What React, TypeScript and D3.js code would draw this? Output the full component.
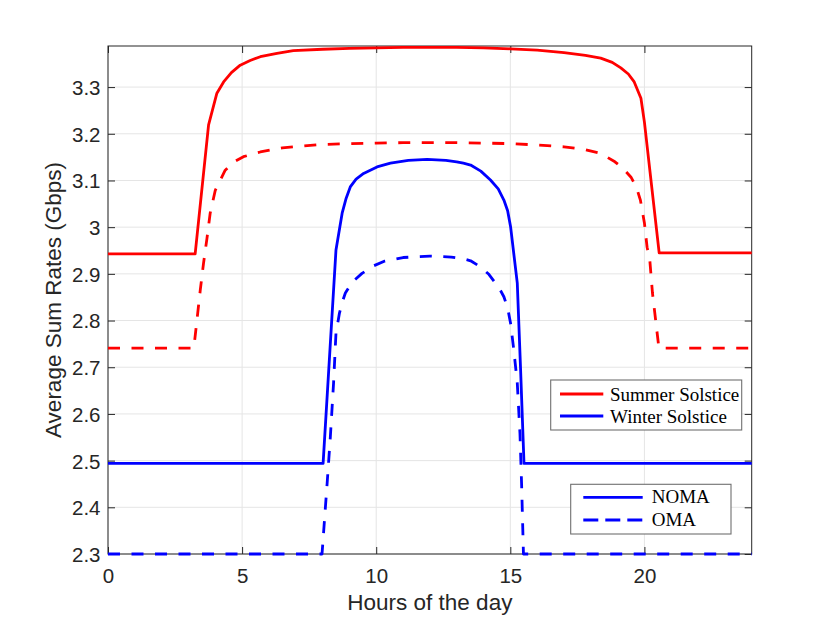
import React, { useEffect, useRef } from 'react';
import * as d3 from 'd3';

// axis ticks
const hourTicks = [0, 5, 10, 15, 20];
const rateTicks = [2.3, 2.4, 2.5, 2.6, 2.7, 2.8, 2.9, 3, 3.1, 3.2, 3.3];

// Summer solstice, NOMA (solid red)
const summerNomaHours = [0, 3.25, 3.75, 4.06, 4.31, 4.6, 4.93, 5.3, 5.68, 6.3, 6.91, 8, 9, 10, 11, 12, 13, 14, 15, 16, 17, 17.8, 18.37, 18.8, 19.12, 19.4, 19.62, 19.87, 20.0, 20.55, 24];
const summerNomaRates = [2.943, 2.943, 3.219, 3.287, 3.311, 3.331, 3.347, 3.357, 3.365, 3.372, 3.378, 3.381, 3.383, 3.384, 3.385, 3.385, 3.385, 3.384, 3.382, 3.379, 3.374, 3.368, 3.362, 3.353, 3.341, 3.328, 3.311, 3.276, 3.225, 2.945, 2.945];

// Summer solstice, OMA (dashed red)
const summerOmaHours = [0, 3.2, 3.44, 3.56, 3.69, 3.81, 4.0, 4.37, 4.7, 5.05, 5.68, 6.5, 7.92, 9, 10, 11, 12, 13, 14, 15, 16, 17, 17.8, 18.37, 18.9, 19.2, 19.5, 19.7, 19.85, 20.0, 20.1, 20.2, 20.3, 20.42, 20.54, 24];
const summerOmaRates = [2.741, 2.741, 2.865, 2.922, 2.976, 3.03, 3.079, 3.122, 3.14, 3.151, 3.161, 3.17, 3.177, 3.179, 3.18, 3.181, 3.181, 3.181, 3.18, 3.179, 3.176, 3.172, 3.166, 3.158, 3.14, 3.126, 3.107, 3.086, 3.058, 3.009, 2.957, 2.93, 2.859, 2.8, 2.741, 2.741];

// Winter solstice, NOMA (solid blue)
const winterNomaHours = [0, 8.02, 8.5, 8.73, 8.88, 9.04, 9.25, 9.53, 10.03, 10.53, 11.2, 11.9, 12.6, 13.0, 13.25, 13.52, 13.9, 14.26, 14.55, 14.76, 14.9, 15.01, 15.26, 15.38, 15.51, 24];
const winterNomaRates = [2.494, 2.494, 2.951, 3.03, 3.062, 3.087, 3.103, 3.115, 3.129, 3.137, 3.143, 3.145, 3.143, 3.14, 3.137, 3.133, 3.12, 3.101, 3.082, 3.058, 3.035, 3.001, 2.88, 2.7, 2.494, 2.494];

// Winter solstice, OMA (dashed blue)
const winterOmaHours = [0, 7.98, 8.17, 8.29, 8.41, 8.5, 8.63, 8.75, 8.85, 9.1, 9.47, 9.9, 10.3, 11, 12, 12.8, 13.2, 13.52, 13.89, 14.2, 14.45, 14.62, 14.76, 14.9, 15.01, 15.13, 15.26, 15.36, 15.42, 15.49, 24];
const winterOmaRates = [2.3, 2.3, 2.451, 2.551, 2.666, 2.773, 2.816, 2.842, 2.859, 2.882, 2.901, 2.917, 2.927, 2.935, 2.938, 2.936, 2.933, 2.928, 2.915, 2.899, 2.88, 2.866, 2.851, 2.827, 2.794, 2.737, 2.666, 2.558, 2.451, 2.3, 2.3];

const seasonLabels = ['Summer Solstice', 'Winter Solstice'];
const schemeLabels = ['NOMA', 'OMA'];

const W = 830;
const H = 623;
const left = 108;
const right = 751.7;
const top = 46;
const bottom = 554;
const axisColor = '#262626';
const sans = '"Liberation Sans", Arial, Helvetica, sans-serif';
const serif = '"Liberation Serif", "DejaVu Serif", serif';
const dash = '12,11.5';

const App = () => {
  const svgRef = useRef(null);

  useEffect(() => {
    const svg = d3.select(svgRef.current);
    svg.selectAll('*').remove();

    const x = d3.scaleLinear().domain([0, 24]).range([left, right]);
    const y = d3.scaleLinear().domain([2.3, 3.388]).range([bottom, top]);

    // grid
    const grid = svg.append('g').attr('stroke', '#e5e5e5').attr('stroke-width', 1);
    hourTicks.forEach((t) => {
      grid.append('line').attr('x1', x(t)).attr('x2', x(t)).attr('y1', top).attr('y2', bottom);
    });
    rateTicks.forEach((t) => {
      grid.append('line').attr('x1', left).attr('x2', right).attr('y1', y(t)).attr('y2', y(t));
    });

    // axes with inward ticks
    const styleAxis = (g: any) => {
      g.select('.domain').remove();
      g.selectAll('.tick line').attr('stroke', axisColor).attr('stroke-width', 1);
      g.selectAll('.tick text').attr('fill', axisColor).attr('font-family', sans).attr('font-size', 20.5);
    };
    svg.append('g')
      .attr('transform', `translate(0,${bottom})`)
      .call(d3.axisBottom(x).tickValues(hourTicks).tickSizeInner(-7).tickSizeOuter(0).tickPadding(14.5).tickFormat((d: any) => String(d)))
      .call(styleAxis);
    svg.append('g')
      .attr('transform', `translate(${left},0)`)
      .call(d3.axisLeft(y).tickValues(rateTicks).tickSizeInner(-7).tickSizeOuter(0).tickPadding(7.5).tickFormat((d: any) => String(d)))
      .call(styleAxis)
      .selectAll('.tick text').attr('dy', '0.36em');
    svg.append('g')
      .attr('transform', `translate(0,${top})`)
      .call(d3.axisTop(x).tickValues(hourTicks).tickSizeInner(-7).tickSizeOuter(0).tickFormat(() => ''))
      .call(styleAxis);
    svg.append('g')
      .attr('transform', `translate(${right},0)`)
      .call(d3.axisRight(y).tickValues(rateTicks).tickSizeInner(-7).tickSizeOuter(0).tickFormat(() => ''))
      .call(styleAxis);

    svg.append('rect')
      .attr('x', left).attr('y', top)
      .attr('width', right - left).attr('height', bottom - top)
      .attr('fill', 'none').attr('stroke', axisColor).attr('stroke-width', 1);

    // axis labels
    svg.append('text')
      .attr('x', (left + right) / 2).attr('y', 610)
      .attr('text-anchor', 'middle')
      .attr('font-family', sans).attr('font-size', 22.5).attr('fill', axisColor)
      .text('Hours of the day');
    svg.append('text')
      .attr('transform', `translate(61,${(top + bottom) / 2}) rotate(-90)`)
      .attr('text-anchor', 'middle')
      .attr('font-family', sans).attr('font-size', 22.5).attr('fill', axisColor)
      .text('Average Sum Rates (Gbps)');

    // curves
    const series = [
      { hours: summerNomaHours, rates: summerNomaRates, color: '#ff0000', dashed: false },
      { hours: summerOmaHours, rates: summerOmaRates, color: '#ff0000', dashed: true },
      { hours: winterNomaHours, rates: winterNomaRates, color: '#0000ff', dashed: false },
      { hours: winterOmaHours, rates: winterOmaRates, color: '#0000ff', dashed: true },
    ];
    series.forEach((s) => {
      const pts: [number, number][] = s.hours.map((h, i) => [h, s.rates[i]]);
      const line = d3.line<[number, number]>().x((d) => x(d[0])).y((d) => y(d[1]));
      svg.append('path')
        .attr('d', line(pts))
        .attr('fill', 'none')
        .attr('stroke', s.color)
        .attr('stroke-width', 2.8)
        .attr('stroke-linejoin', 'round')
        .attr('stroke-dasharray', s.dashed ? dash : null);
    });

    // legend: season colours
    const lg1 = svg.append('g');
    lg1.append('rect').attr('x', 550.7).attr('y', 380).attr('width', 191).attr('height', 50)
      .attr('fill', 'white').attr('stroke', '#707070').attr('stroke-width', 1.1);
    ['#ff0000', '#0000ff'].forEach((c, i) => {
      const yy = 394 + i * 22;
      lg1.append('line').attr('x1', 560).attr('x2', 603.3).attr('y1', yy).attr('y2', yy)
        .attr('stroke', c).attr('stroke-width', 2.8);
      lg1.append('text').attr('x', 610).attr('y', yy + 6.5)
        .attr('font-family', serif).attr('font-size', 19).attr('fill', '#000')
        .text(seasonLabels[i]);
    });

    // legend: schemes
    const lg2 = svg.append('g');
    lg2.append('rect').attr('x', 570.7).attr('y', 484.3).attr('width', 160.3).attr('height', 49.7)
      .attr('fill', 'white').attr('stroke', '#707070').attr('stroke-width', 1.1);
    [false, true].forEach((d, i) => {
      const yy = 497.3 + i * 22.7;
      lg2.append('line').attr('x1', 583.3).attr('x2', 642.7).attr('y1', yy).attr('y2', yy)
        .attr('stroke', '#0000ff').attr('stroke-width', 2.8)
        .attr('stroke-dasharray', d ? '15,7' : null);
      lg2.append('text').attr('x', 651.7).attr('y', yy + 6)
        .attr('font-family', serif).attr('font-size', 19).attr('fill', '#000')
        .text(schemeLabels[i]);
    });
  }, []);

  return (
    <svg
      ref={svgRef}
      width={W}
      height={H}
      style={{ position: 'absolute', left: 0, top: 0, background: '#fff' }}
    ></svg>
  );
};

export default App;
